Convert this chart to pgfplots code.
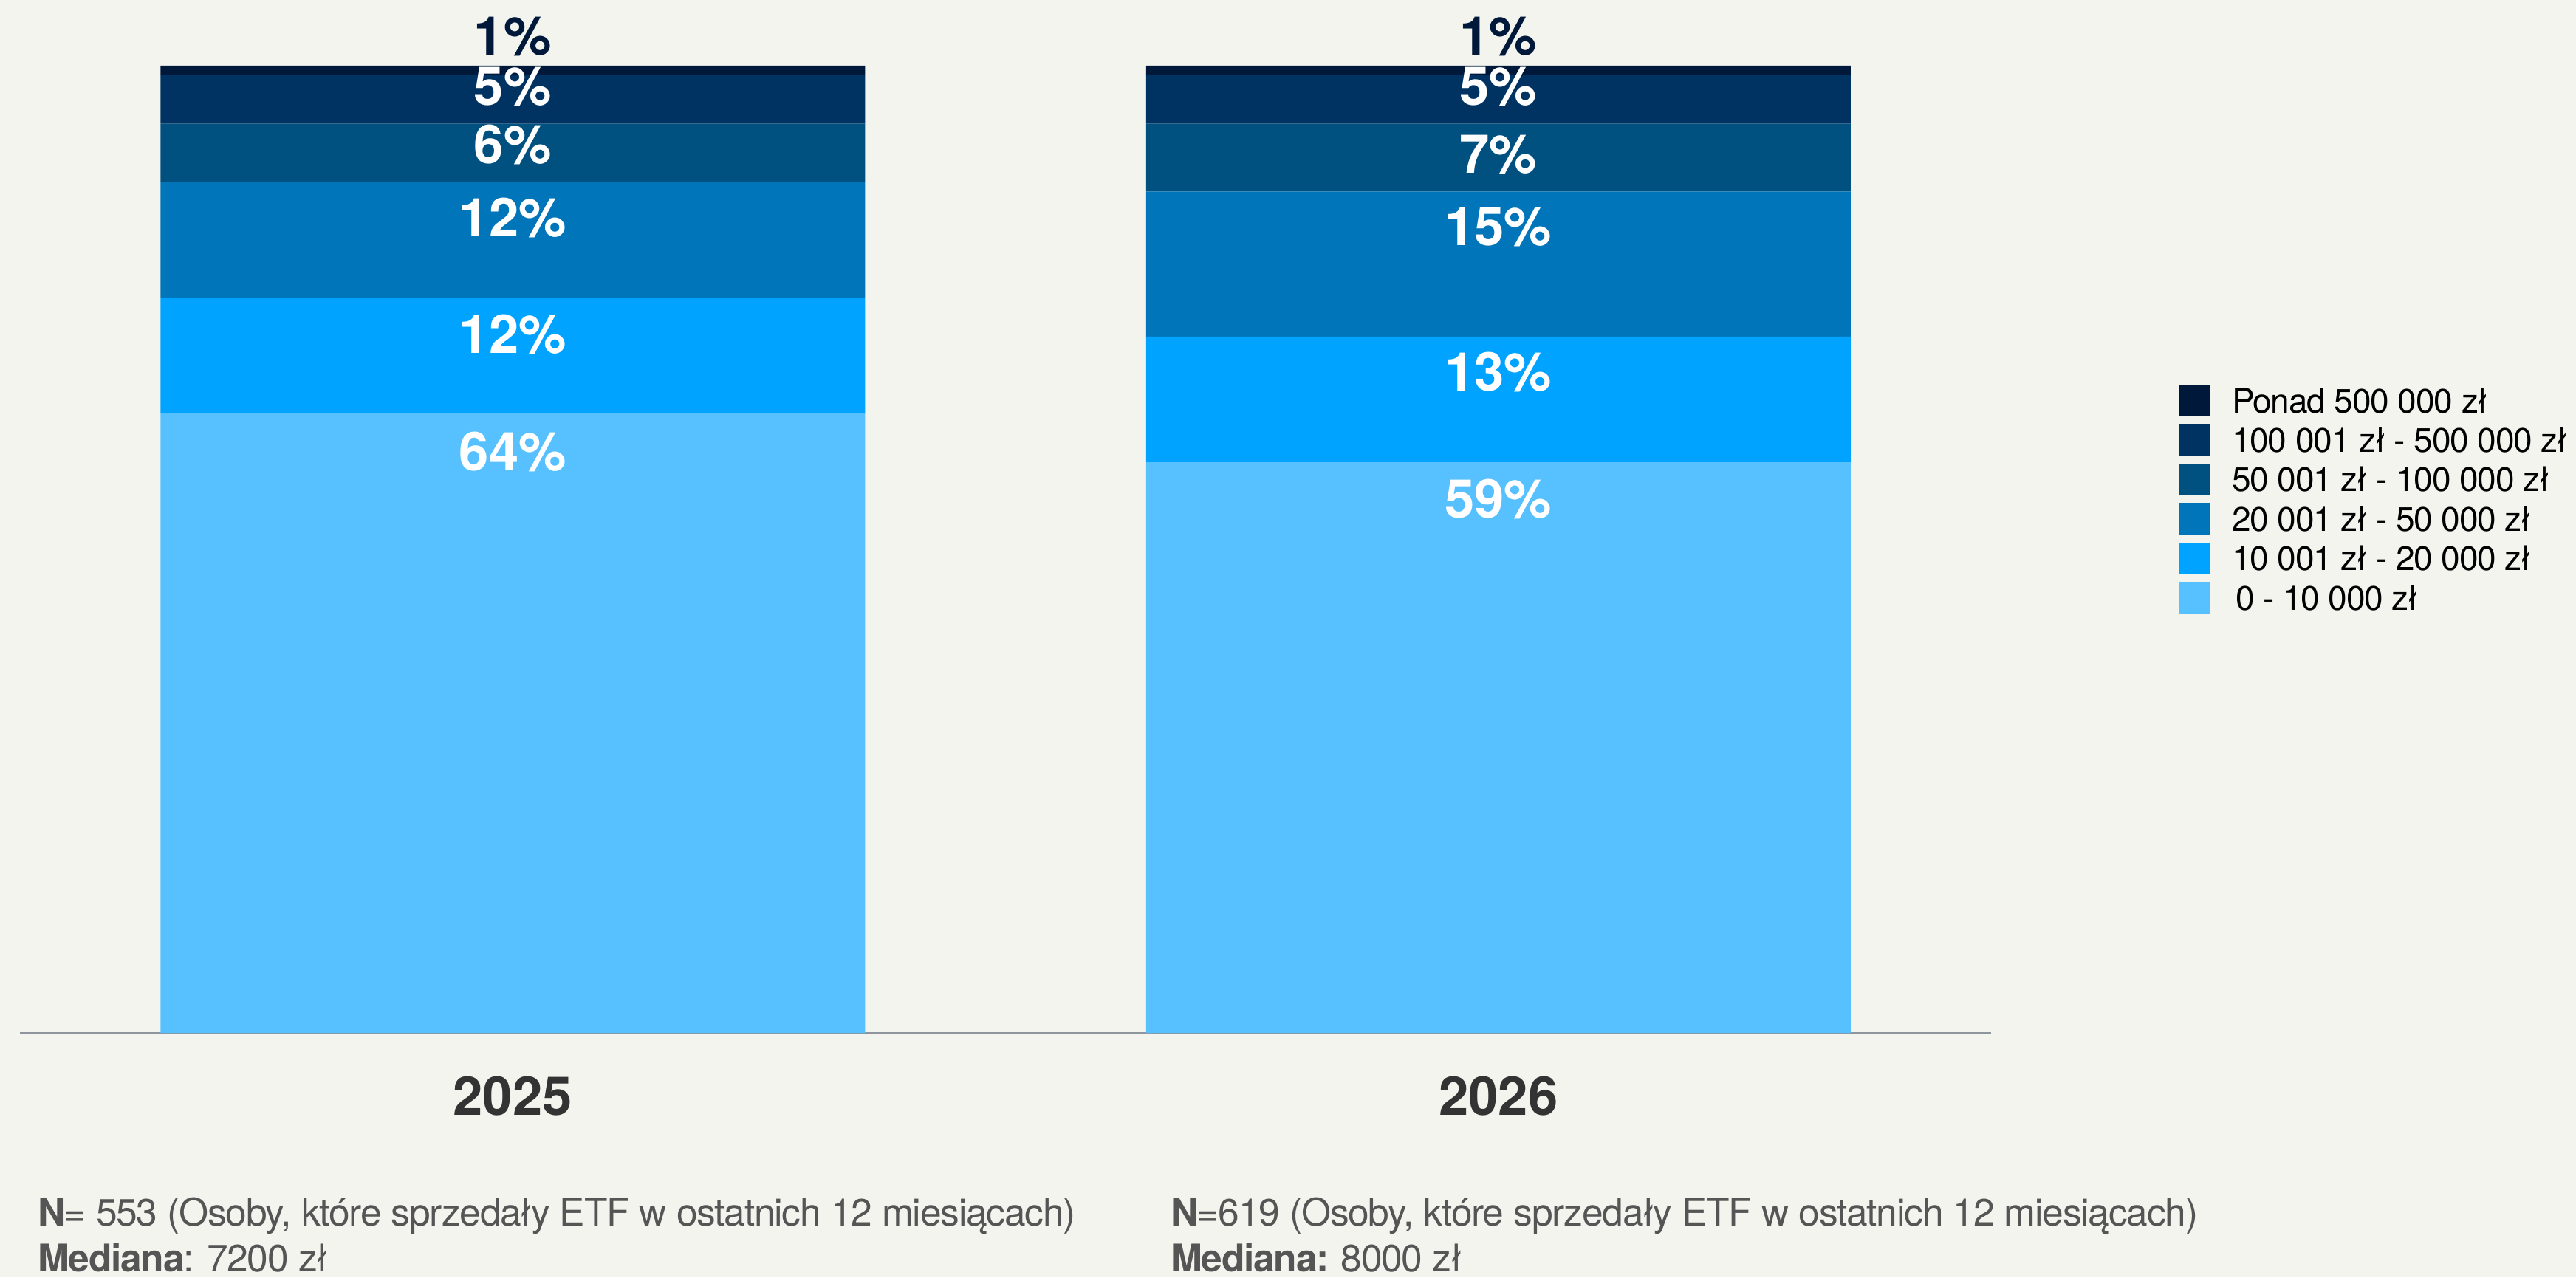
\documentclass[border=0pt]{standalone}
\usepackage{fontspec}
\setmainfont{TeX Gyre Heros}
\newfontfamily\tightfont{TeX Gyre Heros}[LetterSpace=-2.4]
\newfontfamily\legfont{TeX Gyre Heros}[LetterSpace=-2.5]
\usepackage{pgfplots}
\pgfplotsset{compat=1.18}
\definecolor{cA}{HTML}{57C0FF}
\definecolor{cB}{HTML}{00A3FF}
\definecolor{cC}{HTML}{0075B9}
\definecolor{cD}{HTML}{005080}
\definecolor{cE}{HTML}{003361}
\definecolor{cF}{HTML}{00183A}
\definecolor{bg}{HTML}{F4F4EF}
\definecolor{axisgray}{HTML}{8E959C}
\definecolor{yeargray}{HTML}{333333}
\definecolor{textgray}{HTML}{555555}
\pgfplotsset{sqlegend/.style={legend image code/.code={\fill[##1] (0pt,-4.3pt) rectangle (8.6pt,4.3pt);}}}
\begin{document}
\begin{tikzpicture}
\fill[bg] (0,0) rectangle (697.6pt,346pt);
\begin{axis}[
  at={(5.4pt,66.2pt)}, anchor=south west, scale only axis,
  width=533.8pt, height=262pt,
  xmin=-0.5, xmax=1.5, ymin=0, ymax=100, enlargelimits=false,
  ybar stacked, bar width=190.8pt,
  axis x line*=bottom, axis y line=none,
  x axis line style={draw=axisgray, line width=0.6pt, -},
  xtick={0,1}, xticklabels={2025,2026}, major tick length=0pt,
  xticklabel style={anchor=center, yshift=-17.2pt, font=\fontsize{14.5}{16}\selectfont\bfseries, text=yeargray},
  ytick=\empty,
  clip=false,
  legend style={at={(1.09517,0.67023)}, anchor=north west, draw=none, fill=none,
    inner sep=0pt, outer sep=0pt, row sep=2.08pt, column sep=5.8pt,
    font=\legfont\fontsize{9.2}{10}\selectfont,
    nodes={inner sep=0pt, text height=7.6pt, text depth=1.0pt}},
  legend cell align=left, reverse legend,
]
\addplot[fill=cA, draw=none, sqlegend] coordinates {(0,64) (1,59)};
\addlegendentry{\hspace{1pt}0 - 10 000 zł}
\addplot[fill=cB, draw=none, sqlegend] coordinates {(0,12) (1,13)};
\addlegendentry{10 001 zł - 20 000 zł}
\addplot[fill=cC, draw=none, sqlegend] coordinates {(0,12) (1,15)};
\addlegendentry{20 001 zł - 50 000 zł}
\addplot[fill=cD, draw=none, sqlegend] coordinates {(0,6) (1,7)};
\addlegendentry{50 001 zł - 100 000 zł}
\addplot[fill=cE, draw=none, sqlegend] coordinates {(0,5) (1,5)};
\addlegendentry{100 001 zł - 500 000 zł}
\addplot[fill=cF, draw=none, sqlegend] coordinates {(0,1) (1,1)};
\addlegendentry{Ponad 500 000 zł}
\end{axis}
\begin{axis}[
  at={(5.4pt,66.2pt)}, anchor=south west, scale only axis,
  width=533.8pt, height=262pt,
  xmin=-0.5, xmax=1.5, ymin=0, ymax=100, enlargelimits=false,
  axis lines=none, clip=false,
]
\addplot[only marks, mark=*, mark size=0pt, mark options={draw=none, fill=none},
  point meta=explicit symbolic, nodes near coords={\pgfplotspointmeta\%},
  nodes near coords style={anchor=center, inner sep=0pt, text=white, font=\fontsize{14.5}{16}\selectfont\bfseries}]
  table[meta=v] {
x y v
0 60.1 64
0 72.2 12
0 84.3 12
0 91.8 6
0 97.8 5
1 55.2 59
1 68.3 13
1 83.3 15
1 90.8 7
1 97.8 5
};
\addplot[only marks, mark=*, mark size=0pt, mark options={draw=none, fill=none},
  point meta=explicit symbolic, nodes near coords={\pgfplotspointmeta\%},
  nodes near coords style={anchor=center, inner sep=0pt, text=cF, font=\fontsize{14.5}{16}\selectfont\bfseries}]
  table[meta=v] {
x y v
0 103.0 1
1 103.0 1
};
\end{axis}
\node[anchor=base west, inner sep=0pt, text=textgray, font=\tightfont\fontsize{10.3}{12}\selectfont] at (10pt,14pt) {\textbf{N}= 553 (Osoby, które sprzedały ETF w ostatnich 12 miesiącach)};
\node[anchor=base west, inner sep=0pt, text=textgray, font=\tightfont\fontsize{10.3}{12}\selectfont] at (10pt,1.6pt) {\textbf{Mediana}: 7200 zł};
\node[anchor=base west, inner sep=0pt, text=textgray, font=\tightfont\fontsize{10.3}{12}\selectfont] at (316.8pt,14pt) {\textbf{N}=619 (Osoby, które sprzedały ETF w ostatnich 12 miesiącach)};
\node[anchor=base west, inner sep=0pt, text=textgray, font=\tightfont\fontsize{10.3}{12}\selectfont] at (316.8pt,1.6pt) {\textbf{Mediana:} 8000 zł};
\pgfresetboundingbox
\path[use as bounding box] (0,0) rectangle (697.6pt,346pt);
\end{tikzpicture}
\end{document}
